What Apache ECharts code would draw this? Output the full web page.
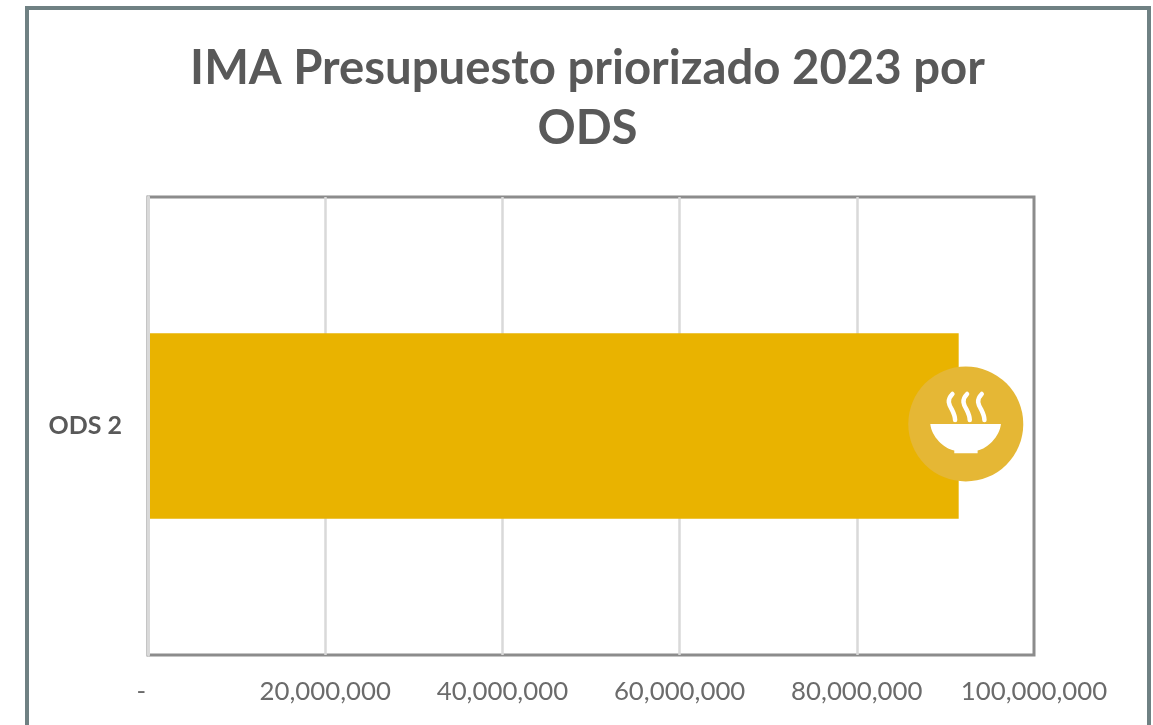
<!DOCTYPE html>
<html>
<head>
<meta charset="utf-8">
<title>IMA Presupuesto priorizado 2023 por ODS</title>
<script src="https://cdn.jsdelivr.net/npm/echarts@6/dist/echarts.min.js"></script>
<style>
  html, body { margin: 0; padding: 0; background: #fff; overflow: hidden; }
  #chart { width: 1153px; height: 725px; }
</style>
</head>
<body>
<div id="chart"></div>
<script>
const categories = ["ODS 2"]
const budget = [91500000]
const iconAt = [92300000]
const tickLabels = ["-  ", "20,000,000", "40,000,000", "60,000,000", "80,000,000", "100,000,000"]

const grey = "#595959"
const bowl = "M0 92H212C208 130 172 165 142 172V180H72V172C40 165 4 130 0 92Z"
const steam = [
  "M64 2C46 20 54 34 62 48C68 60 72 70 72 80",
  "M108 2C90 20 98 34 106 48C112 60 116 70 116 80",
  "M152 2C134 20 142 34 150 48C156 60 160 70 160 80",
]

const chart = echarts.init(document.getElementById("chart"))
chart.setOption({
  backgroundColor: "#fff",
  animation: false,
  title: {
    text: "IMA Presupuesto priorizado 2023 por\nODS",
    left: 582.5,
    top: 34,
    textAlign: "center",
    textStyle: {
      fontFamily: "Lato",
      fontSize: 47.3,
      fontWeight: "bold",
      color: grey,
      lineHeight: 60,
    },
  },
  graphic: [
    {
      type: "rect",
      shape: { x: 27, y: 8, width: 1122, height: 800 },
      style: { fill: "none", stroke: "#6f8183", lineWidth: 4 },
      silent: true,
    },
  ],
  grid: {
    left: 148,
    right: 119,
    top: 197,
    bottom: 70,
    show: true,
    borderColor: "#8c8c8c",
    borderWidth: 3,
  },
  xAxis: {
    type: "value",
    min: 0,
    max: 100000000,
    interval: 20000000,
    axisLine: { show: false },
    axisTick: { show: false },
    splitLine: { showMaxLine: false, lineStyle: { color: "#d9d9d9", width: 2.5 } },
    axisLabel: {
      margin: 24,
      hideOverlap: false,
      fontFamily: "Lato",
      fontSize: 25.8,
      color: "#6b6b6b",
      formatter: (v, i) => tickLabels[i],
    },
  },
  yAxis: {
    type: "category",
    z: 3,
    data: categories,
    axisLine: { show: true, lineStyle: { color: "#d9d9d9", width: 3 } },
    axisTick: { show: false },
    axisLabel: {
      margin: 26,
      fontFamily: "Lato",
      fontSize: 25,
      fontWeight: "bold",
      color: grey,
    },
  },
  series: [
    {
      type: "bar",
      data: budget,
      barWidth: "40.5%",
      itemStyle: { color: "#e9b300" },
    },
    {
      type: "custom",
      data: iconAt,
      silent: true,
      z: 5,
      encode: { x: 0, y: -1 },
      renderItem: (params, api) => {
        const [cx, cy] = api.coord([api.value(0), 0])
        const ox = -35.5
        const oy = -32
        const scale = 1 / 3
        const children = [
          {
            type: "circle",
            shape: { cx: 0, cy: -2, r: 57.5 },
            style: { fill: "#e5b735" },
          },
          {
            type: "path",
            shape: { pathData: bowl, x: ox, y: oy + 1, width: 212 * scale, height: 180 * scale * 0.52 },
            position: [0, 28],
            style: { fill: "#fff" },
          },
        ]
        steam.forEach((d, i) => {
          children.push({
            type: "path",
            shape: { pathData: d, x: ox + (64 - 18 + 44 * i) * scale + 2, y: oy, width: 26 * scale, height: 78 * scale },
            style: { fill: "none", stroke: "#fff", lineWidth: 4.5, lineCap: "round" },
          })
        })
        return { type: "group", x: cx, y: cy, children }
      },
    },
  ],
})
</script>
</body>
</html>
